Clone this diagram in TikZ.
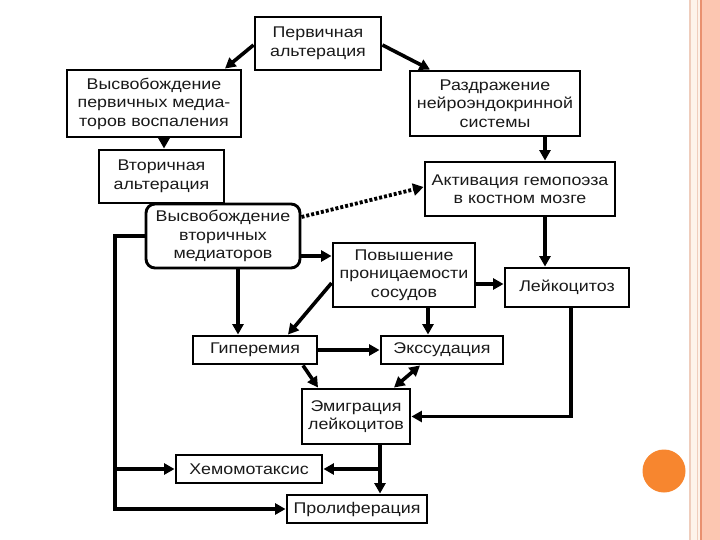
\documentclass[tikz,border=0pt]{standalone}
\usepackage{fontspec}
\setmainfont{Liberation Sans}[FakeStretch=1.15]
\usetikzlibrary{arrows.meta,calc}
\definecolor{txt}{HTML}{1A1A1A}
\definecolor{peach}{HTML}{FCC6B1}
\definecolor{cream}{HTML}{FDF3EA}
\definecolor{stripeA}{HTML}{EFCDBC}
\definecolor{stripeB}{HTML}{E9906F}
\definecolor{dot}{HTML}{F7862F}
\tikzset{
  box/.style={draw=black, line width=2.9pt, fill=white, align=center, inner sep=0pt,
    font=\fontsize{15.5}{18.5}\selectfont, text=txt},
  rbox/.style={box, rounded corners=9pt},
  arr/.style={line width=3.6pt, -{Triangle[length=10.5pt,width=11pt]}},
  darr/.style={line width=3.6pt, {Triangle[length=10.5pt,width=11pt]}-{Triangle[length=10.5pt,width=11pt]}},
  dotarr/.style={line width=3.8pt, dash pattern=on 3pt off 2pt, -{Triangle[length=10.5pt,width=12pt]}}
}
\begin{document}
\begin{tikzpicture}[x=1pt,y=-1pt]
\useasboundingbox (0,0) rectangle (720,540);
\fill[white] (0,0) rectangle (720,540);
% right decoration
\fill[cream] (689,0) rectangle (702,540);
\fill[stripeA] (689,0) rectangle (691,540);
\fill[stripeA] (696.5,0) rectangle (698,540);
\fill[stripeB] (700,0) rectangle (702,540);
\fill[peach] (702,0) rectangle (720,540);
\fill[dot] (664,471) circle (21.5);

% boxes
\node[box, minimum width=126, minimum height=53] (P1) at (318,43.5) {Первичная\\альтерация};
\node[box, minimum width=174, minimum height=67] (VP) at (154,103.5) {Высвобождение\\первичных медиа-\\торов воспаления};
\node[box, minimum width=170, minimum height=65] (RN) at (495,103.5) {Раздражение\\нейроэндокринной\\системы};
\node[box, minimum width=125, minimum height=53] (VA) at (161.5,176.5) {Вторичная\\альтерация};
\node[box, minimum width=190, minimum height=54] (AG) at (520,189) {Активация гемопоэза\\в костном мозге};
\node[rbox, minimum width=154, minimum height=64] (VV) at (223,236) {Высвобождение\\вторичных\\медиаторов};
\node[box, minimum width=142, minimum height=64] (PP) at (404,275) {Повышение\\проницаемости\\сосудов};
\node[box, minimum width=124, minimum height=39] (LE) at (567,287.5) {Лейкоцитоз};
\node[box, minimum width=124, minimum height=28] (GI) at (255,350) {Гиперемия};
\node[box, minimum width=122, minimum height=28] (EK) at (442,350) {Экссудация};
\node[box, minimum width=108, minimum height=55] (EM) at (356,416.5) {Эмиграция\\лейкоцитов};
\node[box, minimum width=146, minimum height=28] (HE) at (249,469) {Хемомотаксис};
\node[box, minimum width=140, minimum height=28] (PR) at (357,509) {Пролиферация};

% connectors
\draw[arr] ([yshift=-1.5]P1.west) -- ([xshift=71]VP.north);
\draw[arr] ([yshift=-1.5]P1.east) -- ([xshift=-65]RN.north);
\draw[arr] ([xshift=10]VP.south) -- ([xshift=2.5]VA.north);
\draw[arr] ([xshift=50]RN.south) -- ([xshift=25]AG.north);
\draw[dotarr] ([yshift=19]VV.east) -- ([yshift=2]AG.west);
\draw[arr] ([xshift=25]AG.south) -- ([xshift=-22]LE.north);
\draw[arr] ([yshift=-20]VV.east) -- ([yshift=19]PP.west);
\draw[arr] ([xshift=15]VV.south) -- ([xshift=-17]GI.north);
\coordinate (c9) at ([yshift=-9]PP.east);
\draw[arr] (c9) -- (c9 -| LE.west);
\draw[arr] ([yshift=-8]PP.west) -- ([xshift=33]GI.north);
\draw[arr] ([xshift=24]PP.south) -- ([xshift=-14]EK.north);
\draw[arr] (GI.east) -- (EK.west);
\draw[arr] ([xshift=48]GI.south) -- ([xshift=-38]EM.north);
\draw[darr] ([xshift=-22]EK.south) -- ([xshift=38]EM.north);
\draw[arr] ([xshift=4]LE.south) |- (EM.east);
\draw[arr] ([xshift=24]EM.south) -- ([xshift=23]PR.north);
\coordinate (j1) at (380,469);
\draw[arr] (j1) -- (HE.east);
\coordinate (lc) at (115,509);
\coordinate (lh) at (115,469);
\draw[arr] (VV.west) -| (lc) -- (PR.west);
\draw[arr] (lh) -- (HE.west);
\end{tikzpicture}
\end{document}
